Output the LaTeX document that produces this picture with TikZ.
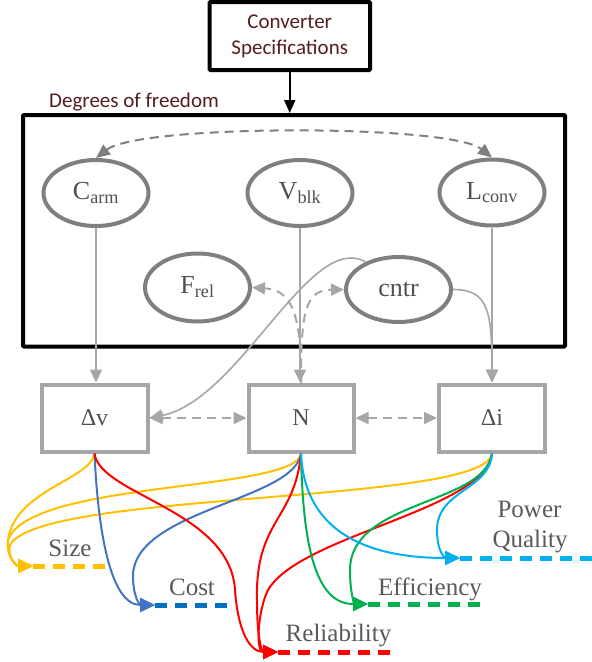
\documentclass[tikz,border=0pt]{standalone}
\usepackage{fontspec}
\setmainfont{Liberation Serif}
\newfontfamily\calib{Carlito}
\usetikzlibrary{arrows.meta,shapes.geometric}
\definecolor{maroon}{RGB}{84,30,30}
\definecolor{egray}{RGB}{127,127,127}
\definecolor{lgray}{RGB}{166,166,166}
\definecolor{tgray}{RGB}{80,80,80}
\definecolor{lblgray}{RGB}{89,89,89}
\definecolor{cOr}{RGB}{255,192,0}
\definecolor{cBl}{RGB}{68,114,196}
\definecolor{cBd}{RGB}{0,112,192}
\definecolor{cRd}{RGB}{255,0,0}
\definecolor{cGr}{RGB}{0,176,80}
\definecolor{cCy}{RGB}{0,176,240}
\begin{document}
\begin{tikzpicture}[x=1pt,y=-1pt,
  ell/.style={ellipse, draw=egray, line width=4pt, minimum width=105pt, minimum height=66pt, inner sep=0pt, text=tgray, font=\fontsize{26}{30}\selectfont},
  gbox/.style={draw=lgray, line width=4pt, minimum width=106pt, minimum height=67pt, inner sep=0pt, text=tgray, font=\fontsize{24}{28}\selectfont},
  blk/.style={draw=black, line width=4pt, inner sep=0pt, rounded corners=1pt},
  gl/.style={draw=lgray, line width=1.6pt},
  gtip/.style={-{Triangle[length=13pt,width=12pt]}},
  gtips/.style={{Triangle[length=13pt,width=12pt]}-{Triangle[length=13pt,width=12pt]}},
  gdash/.style={draw=lgray, line width=2pt, dash pattern=on 9pt off 6pt},
  cl/.style={line width=2pt, -{Triangle[length=15pt,width=14pt]}},
  tline/.style={line width=5pt, dash pattern=on 12pt off 8pt},
  lbl/.style={text=lblgray, font=\fontsize{25}{30}\selectfont, inner sep=0pt, anchor=base}
]
\useasboundingbox (0,0) rectangle (592,662);

% top
\node[blk, minimum width=160.5pt, minimum height=68pt, align=center, text=maroon,
      font=\calib\fontsize{21}{26}\selectfont] (spec) at (289.75,36) {Converter\\Specifications};
\node[anchor=base west, inner sep=0pt, text=maroon, font=\calib\fontsize{21}{26}\selectfont] (doflbl) at (49,107) {Degrees of freedom};
\node[blk, minimum width=542pt, minimum height=231.5pt] (dofbox) at (294,230.75) {};
\draw[line width=2pt, -{Triangle[length=13pt,width=11pt]}] (spec.south) -- (spec.south |- dofbox.north);

% ellipses
\node[ell] (carm) at (96,193) {C\textsubscript{arm}};
\node[ell] (vblk) at (300,193) {V\textsubscript{blk}};
\node[ell] (lconv) at (492,192.5) {L\textsubscript{conv}};
\node[ell, minimum height=68pt] (frel) at (197.5,287.5) {F\textsubscript{rel}};
\node[ell, minimum height=65pt] (cntr) at (398.5,289.5) {cntr};

% boxes
\node[gbox] (dv) at (94.5,418) {Δv};
\node[gbox, minimum width=105pt] (n) at (301,418) {N};
\node[gbox] (di) at (492,418) {Δi};

% gray connectors
\draw[gdash, draw=egray, gtips, {Triangle[length=14pt,width=12pt]}-{Triangle[length=14pt,width=12pt]}]
  (carm.north) .. controls (140,124) and (450,124) .. (lconv.north);
\draw[gl, gtip] (carm.south) -- (carm.south |- dv.north);
\draw[gl, gtip] (vblk.south) -- (vblk.south |- n.north);
\draw[gl, gtip] (lconv.south) -- (di.north);
\draw[gl, gtip] (cntr.140) .. controls (310,230) and (240,400) .. (dv.east);
\draw[gl, gtip] (cntr.east) .. controls (488,289.5) and (492,310) .. (di.north);
\draw[gdash, -{Triangle[length=13pt,width=12pt]}] (n.north) .. controls (301,318) and (294,290) .. (frel.east);
\draw[gdash, -{Triangle[length=13pt,width=12pt]}] (n.north) .. controls (301,312) and (305,290) .. (cntr.west);
\draw[gdash, gtips] (dv.east) -- (n.west);
\draw[gdash, gtips] (n.east) -- (di.west);

% targets
\coordinate (sizeS) at (33,566);   \coordinate (sizeE) at (107,566);
\coordinate (costS) at (155,605);  \coordinate (costE) at (230,605);
\coordinate (relS) at (278,652);   \coordinate (relE) at (392,652);
\coordinate (effS) at (368,604);   \coordinate (effE) at (483,604);
\coordinate (pqS) at (460,558);    \coordinate (pqE) at (592,558);
\draw[tline, cOr] (sizeS) -- (sizeE);
\draw[tline, cBd] (costS) -- (costE);
\draw[tline, cRd] (relS) -- (relE);
\draw[tline, cGr] (effS) -- (effE);
\draw[tline, cCy] (pqS) -- (pqE);

\node[lbl] (sizel) at (70,556) {Size};
\node[lbl] (costl) at (192,595) {Cost};
\node[lbl] (rell) at (338.5,641) {Reliability};
\node[lbl] (effl) at (430,595) {Efficiency};
\node[lbl] (pql1) at (529.5,517) {Power};
\node[lbl] (pql2) at (530,547) {Quality};

% colored curves
\draw[cl, cOr] (dv.south) .. controls (90,480) and (15,490) .. (8,540) .. controls (6,556) and (16,566) .. (sizeS);
\draw[cl, cOr] (n.south) .. controls (296,492) and (30,480) .. (8,540) .. controls (6,556) and (16,566) .. (sizeS);
\draw[cl, cOr] (di.south) .. controls (485,505) and (40,490) .. (10,545) .. controls (7,556) and (16,566) .. (sizeS);

\draw[cl, cBl] (dv.south) .. controls (98,530) and (110,605) .. (costS);
\draw[cl, cBl] (n.south) .. controls (295,500) and (135,510) .. (133,575) .. controls (133,598) and (140,605) .. (costS);

\draw[cl, cRd] (dv.south) .. controls (100,495) and (230,510) .. (235,590) .. controls (238,632) and (250,652) .. (relS);
\draw[cl, cRd] (n.south) .. controls (295,520) and (255,520) .. (257,600) .. controls (257,640) and (262,652) .. (relS);
\draw[cl, cRd] (di.south) .. controls (485,510) and (300,535) .. (268,590) .. controls (258,610) and (255,652) .. (relS);

\draw[cl, cGr] (n.south) .. controls (303,560) and (320,604) .. (effS);
\draw[cl, cGr] (di.south) .. controls (485,505) and (350,500) .. (350,570) .. controls (350,595) and (355,604) .. (effS);

\draw[cl, cCy] (n.south) .. controls (305,540) and (380,558) .. (pqS);
\draw[cl, cCy] (di.south) .. controls (490,490) and (437,490) .. (437,530) .. controls (437,552) and (445,558) .. (pqS);
\end{tikzpicture}
\end{document}
